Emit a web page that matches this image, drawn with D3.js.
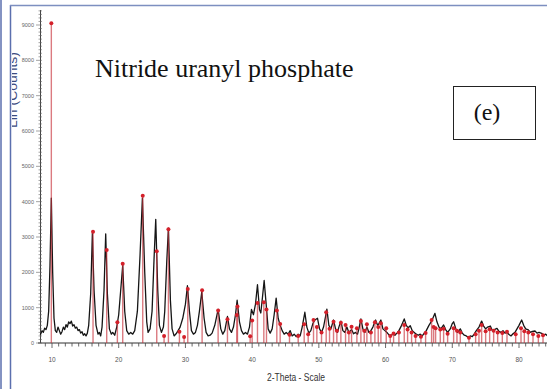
<!DOCTYPE html>
<html>
<head>
<meta charset="utf-8">
<script src="https://cdn.jsdelivr.net/npm/d3@7"></script>
<style>
  body { margin: 0; background: #fff; }
  svg { display: block; }
</style>
</head>
<body>
<div id="chart"></div>
<script>
var measured = [
  [8.2,260],[8.3,250],[8.5,350],[8.7,300],[8.9,420],[9.1,380],[9.3,500],[9.5,900],[9.7,2200],[9.9,4100],
  [10.1,2000],[10.3,700],[10.5,350],[10.7,300],[10.9,450],[11.1,350],[11.3,250],[11.5,320],[11.7,450],[11.9,380],
  [12.1,520],[12.3,450],[12.5,600],[12.7,550],[12.9,620],[13.1,480],[13.3,520],[13.5,420],[13.7,450],[13.9,350],
  [14.1,380],[14.3,280],[14.5,320],[14.7,220],[14.9,260],[15.1,200],[15.3,280],[15.5,500],[15.8,1400],[16.05,3100],
  [16.3,1500],[16.6,500],[16.9,250],[17.1,300],[17.3,200],[17.5,450],[17.8,1500],[18.05,3090],[18.3,1400],[18.6,400],
  [18.9,250],[19.1,300],[19.4,220],[19.7,450],[20.0,800],[20.3,1500],[20.6,2200],[20.9,900],[21.2,350],[21.5,250],
  [21.8,300],[22.1,250],[22.4,350],[22.8,900],[23.2,2500],[23.55,4100],[23.9,2000],[24.2,600],[24.4,300],[24.7,400],
  [25.0,900],[25.3,2400],[25.55,3500],[25.85,1500],[26.1,500],[26.4,300],[26.7,450],[26.9,900],[27.2,2300],[27.45,3250],
  [27.75,1200],[28.0,400],[28.3,200],[28.6,260],[28.9,350],[29.2,450],[29.6,700],[30.0,1100],[30.3,1620],[30.6,900],
  [30.9,350],[31.2,250],[31.5,300],[31.8,500],[32.1,900],[32.45,1450],[32.8,700],[33.1,300],[33.4,200],[33.7,220],
  [34.0,280],[34.4,500],[34.9,950],[35.3,400],[35.6,250],[35.9,350],[36.3,750],[36.6,400],[36.9,300],[37.2,450],
  [37.5,800],[37.75,1210],[38.1,600],[38.4,350],[38.7,250],[39.0,300],[39.3,250],[39.6,450],[39.9,950],[40.2,800],
  [40.5,1100],[40.8,1650],[41.1,950],[41.3,850],[41.55,1300],[41.8,1770],[42.1,1100],[42.4,400],[42.7,280],[43.0,400],
  [43.3,800],[43.6,1270],[43.9,700],[44.2,500],[44.5,350],[44.8,250],[45.1,300],[45.4,250],[45.7,350],[46.0,200],
  [46.3,250],[46.6,180],[46.9,250],[47.2,200],[47.5,450],[47.9,870],[48.2,450],[48.5,280],[48.8,350],[49.1,550],
  [49.4,650],[49.8,700],[50.1,400],[50.4,300],[50.7,450],[51.0,750],[51.2,960],[51.5,500],[51.8,400],[52.2,650],
  [52.5,400],[52.8,300],[53.0,450],[53.3,620],[53.6,350],[53.9,300],[54.2,450],[54.5,300],[54.9,380],[55.2,260],
  [55.5,300],[55.8,250],[56.0,400],[56.3,680],[56.6,400],[56.9,300],[57.2,450],[57.5,300],[57.8,350],[58.1,450],
  [58.5,650],[58.8,500],[59.0,550],[59.3,650],[59.6,400],[59.9,350],[60.2,300],[60.5,230],[60.8,200],[61.1,260],
  [61.4,220],[61.7,280],[62.0,350],[62.4,500],[62.8,680],[63.1,500],[63.4,430],[63.7,490],[64.0,350],[64.3,300],
  [64.6,250],[64.9,220],[65.2,250],[65.5,200],[65.8,280],[66.1,350],[66.5,500],[66.9,620],[67.2,750],[67.4,840],
  [67.7,600],[68.0,450],[68.3,400],[68.7,510],[69.0,380],[69.3,300],[69.7,400],[70.0,550],[70.2,600],[70.5,420],
  [70.8,300],[71.2,400],[71.5,280],[71.8,220],[72.1,200],[72.4,160],[72.7,200],[73.0,180],[73.3,260],[73.6,350],
  [74.0,450],[74.4,620],[74.7,480],[75.0,400],[75.3,450],[75.7,480],[76.0,350],[76.3,380],[76.7,415],[77.0,330],
  [77.3,300],[77.6,350],[77.9,280],[78.2,300],[78.5,240],[78.8,200],[79.1,260],[79.4,300],[79.7,400],[80.0,500],
  [80.4,650],[80.7,500],[81.0,400],[81.4,370],[81.7,300],[82.0,330],[82.4,340],[82.7,280],[83.0,300],[83.4,275],
  [83.7,220],[84.0,250],[84.3,200]
];

// reference phase sticks (red): [2theta, counts]
var sticks = [
  [9.9,9050],[16.15,3150],[18.2,2630],[19.8,590],[20.6,2240],[23.6,4170],[25.7,2600],[26.8,200],[27.45,3220],[29.1,320],
  [29.8,170],[30.35,1530],[32.5,1490],[34.9,920],[36.3,670],[37.7,790],[37.8,1030],[39.7,190],[40.0,640],[40.8,1130],
  [41.75,1150],[42.15,950],[43.7,920],[44.2,540],[45.6,230],[46.9,200],[47.8,530],[48.4,250],[49.2,650],[49.7,450],
  [50.4,300],[51.1,870],[51.6,400],[52.2,600],[52.7,350],[53.3,575],[54.0,510],[54.5,300],[54.9,460],[55.7,415],
  [56.3,620],[56.8,350],[57.2,530],[57.8,300],[58.4,585],[58.9,450],[59.3,560],[60.1,415],[60.7,200],[61.2,270],
  [62.0,300],[62.8,510],[63.3,380],[63.9,300],[64.5,200],[65.3,180],[66.0,280],[66.9,650],[67.2,450],[67.5,415],
  [68.2,380],[68.7,400],[69.3,260],[70.2,415],[70.7,350],[71.2,300],[72.5,150],[73.5,250],[74.0,350],[74.4,510],
  [75.0,330],[75.6,390],[76.2,350],[76.8,300],[77.5,280],[78.2,320],[79.5,250],[80.3,415],[80.8,330],[81.4,300],
  [82.1,250],[82.9,200],[83.6,220]
];

var xTickLabels = [10, 20, 30, 40, 50, 60, 70, 80];
var yTickLabels = [0, 1000, 2000, 3000, 4000, 5000, 6000, 7000, 8000, 9000];
var title = "Nitride uranyl phosphate";
var panel = "(e)";
var xTitle = "2-Theta - Scale";
var yTitle = "Lin (Counts)";

(function(){

  var width = 547,
      height = 389;

  var sans = "'Liberation Sans', Arial, sans-serif",
      serif = "'Liberation Serif', 'Times New Roman', serif";

  var svg = d3.select('#chart').append('svg')
    .attr('width', width)
    .attr('height', height);

  var x = d3.scaleLinear()
      .domain([10, 80])
      .range([52, 519]);

  var y = d3.scaleLinear()
      .domain([0, 9000])
      .range([343, 25]);

  // frame lines
  svg.append('line')
    .attr('x1', 1).attr('x2', 1).attr('y1', 0).attr('y2', height)
    .attr('stroke', '#5b6fae').attr('stroke-width', 1.5);
  svg.append('line')
    .attr('x1', 10.5).attr('x2', 10.5).attr('y1', 5).attr('y2', height)
    .attr('stroke', '#5b6fae').attr('stroke-width', 1.5);
  svg.append('line')
    .attr('x1', 10).attr('x2', width).attr('y1', 5.5).attr('y2', 5.5)
    .attr('stroke', '#7d8fc0').attr('stroke-width', 1.5);

  // y title, cut by the inner frame line
  svg.append('clipPath').attr('id', 'ylab')
    .append('rect').attr('x', 12).attr('y', 0).attr('width', 20).attr('height', height);
  svg.append('g')
    .attr('clip-path', 'url(#ylab)')
    .append('g')
    .attr('transform', 'translate(16.5,128)')
    .append('text')
    .attr('transform', 'rotate(-90)')
    .attr('x', 0)
    .attr('y', 0)
    .attr('textLength', 76)
    .attr('lengthAdjust', 'spacingAndGlyphs')
    .attr('font-family', sans)
    .attr('font-size', 12)
    .attr('fill', '#3b4a80')
    .text(yTitle);

  // x axis
  var minorX = d3.range(9, 85, 1);
  var gx = svg.append('g').attr('class', 'xAxis');
  gx.append('line')
    .attr('x1', 38).attr('x2', width)
    .attr('y1', y(0)).attr('y2', y(0))
    .attr('stroke', '#333').attr('stroke-width', 1.2);
  gx.selectAll('line.tick')
    .data(minorX)
    .enter().append('line')
    .attr('class', 'tick')
    .attr('x1', function(d){ return x(d); })
    .attr('x2', function(d){ return x(d); })
    .attr('y1', y(0))
    .attr('y2', function(d){ return y(0) + (d % 10 === 0 ? 5 : 3.5); })
    .attr('stroke', '#444').attr('stroke-width', 0.8);
  gx.selectAll('text')
    .data(xTickLabels)
    .enter().append('text')
    .attr('x', function(d){ return x(d); })
    .attr('y', 362)
    .attr('text-anchor', 'middle')
    .attr('font-family', sans)
    .attr('font-size', 6.5)
    .attr('fill', '#555')
    .text(function(d){ return d; });

  svg.append('text')
    .attr('x', 267)
    .attr('y', 381)
    .attr('textLength', 58)
    .attr('lengthAdjust', 'spacingAndGlyphs')
    .attr('font-family', sans)
    .attr('font-size', 10)
    .attr('fill', '#333')
    .text(xTitle);

  // y axis
  var minorY = d3.range(0, 9500, 100);
  var gy = svg.append('g').attr('class', 'yAxis');
  gy.append('line')
    .attr('x1', 40.5).attr('x2', 40.5)
    .attr('y1', y(0)).attr('y2', 10)
    .attr('stroke', '#444').attr('stroke-width', 1);
  gy.selectAll('line.tick')
    .data(minorY)
    .enter().append('line')
    .attr('class', 'tick')
    .attr('x1', function(d){ return d % 1000 === 0 ? 36 : 38.5; })
    .attr('x2', 42)
    .attr('y1', function(d){ return y(d); })
    .attr('y2', function(d){ return y(d); })
    .attr('stroke', '#666').attr('stroke-width', 0.6);
  gy.selectAll('text')
    .data(yTickLabels)
    .enter().append('text')
    .attr('x', 34)
    .attr('y', function(d){ return y(d) + 2; })
    .attr('text-anchor', 'end')
    .attr('font-family', sans)
    .attr('font-size', 5.5)
    .attr('fill', '#666')
    .text(function(d){ return d; });

  // measured pattern
  var line = d3.line()
      .x(function(d){ return x(d[0]); })
      .y(function(d){ return y(d[1]); });

  svg.append('path')
    .datum(measured)
    .attr('fill', 'none')
    .attr('stroke', '#151515')
    .attr('stroke-width', 1.3)
    .attr('stroke-linejoin', 'round')
    .attr('d', line);

  // reference sticks
  svg.append('g').selectAll('line')
    .data(sticks)
    .enter().append('line')
    .attr('x1', function(d){ return x(d[0]); })
    .attr('x2', function(d){ return x(d[0]); })
    .attr('y1', y(0))
    .attr('y2', function(d){ return y(d[1]); })
    .attr('stroke', '#c8323c')
    .attr('stroke-opacity', 0.65)
    .attr('stroke-width', 1.4);

  svg.append('g').selectAll('circle')
    .data(sticks)
    .enter().append('circle')
    .attr('cx', function(d){ return x(d[0]); })
    .attr('cy', function(d){ return y(d[1]); })
    .attr('r', 2)
    .attr('fill', '#d4202a');

  // title and panel label
  svg.append('text')
    .attr('x', 95)
    .attr('y', 77)
    .attr('font-family', serif)
    .attr('font-size', 26)
    .attr('fill', '#111')
    .text(title);

  svg.append('rect')
    .attr('x', 453.5).attr('y', 86.5)
    .attr('width', 82).attr('height', 53)
    .attr('fill', 'none')
    .attr('stroke', '#222').attr('stroke-width', 1);

  svg.append('text')
    .attr('x', 487)
    .attr('y', 120)
    .attr('text-anchor', 'middle')
    .attr('font-family', serif)
    .attr('font-size', 24)
    .attr('fill', '#111')
    .text(panel);

})();
</script>
</body>
</html>
